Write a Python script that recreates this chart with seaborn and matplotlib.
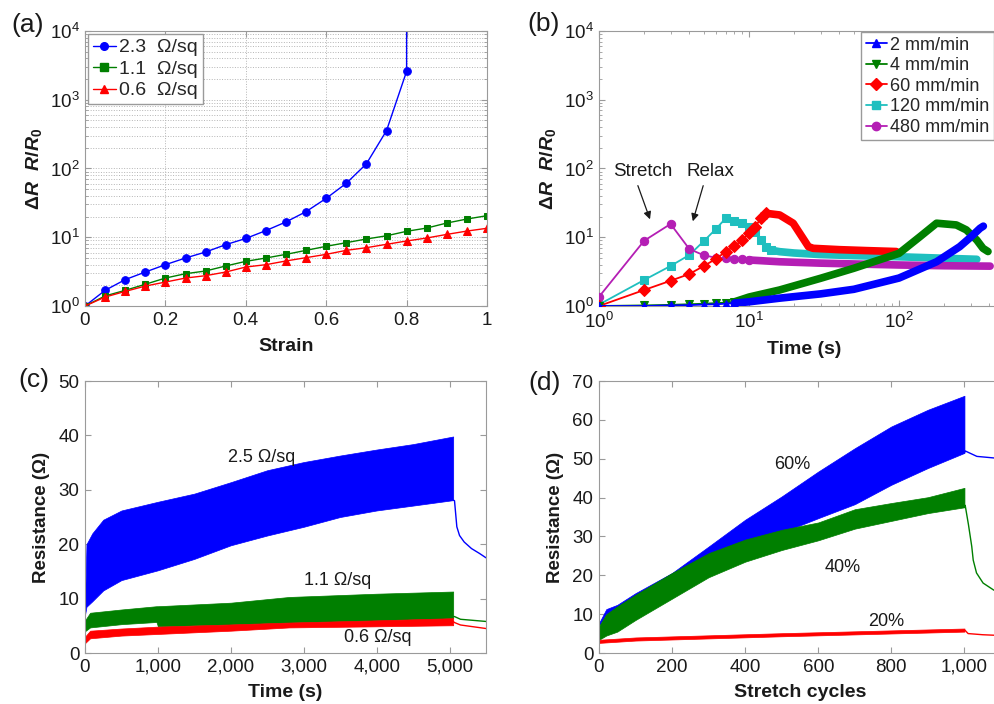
import matplotlib
matplotlib.use('Agg')
import matplotlib.pyplot as plt
from matplotlib.lines import Line2D
from matplotlib.ticker import FuncFormatter, MultipleLocator, NullLocator
import seaborn as sns

sns.set_theme(style='ticks')
plt.rcParams['font.family'] = ['Liberation Sans', 'DejaVu Sans']
plt.rcParams.update({
    'mathtext.fontset': 'custom',
    'mathtext.rm': 'Liberation Sans:bold',
    'mathtext.it': 'Liberation Sans:italic:bold',
    'mathtext.bf': 'Liberation Sans:bold',
})

BLUE, GREEN, RED = '#0000ff', '#007f00', '#ff0000'
CYAN, MAGENTA = '#1fbfbf', '#b41eb4'
SPINE, TXT = '#9a9a9a', '#1a1a1a'

# ---- (a) strain sweep, three sheet resistances
strain = [0.0, 0.05, 0.1, 0.15, 0.2, 0.25, 0.3, 0.35, 0.4, 0.45, 0.5,
          0.55, 0.6, 0.65, 0.7, 0.75, 0.8, 0.85, 0.9, 0.95, 1.0]
dr_23 = [1.0, 1.69, 2.42, 3.12, 3.99, 4.99, 6.1, 7.8, 9.6, 12.5, 16.7,
         23.6, 36.8, 60.9, 117, 355, 2590]
dr_23_break = [0.8, 2.0e4]          # film breaks at 80 % strain
dr_11 = [1.0, 1.40, 1.69, 2.07, 2.55, 2.95, 3.23, 3.82, 4.46, 4.99, 5.64,
         6.45, 7.38, 8.34, 9.43, 10.5, 12.2, 13.6, 16.1, 18.4, 20.6]
dr_06 = [1.0, 1.35, 1.63, 1.95, 2.23, 2.55, 2.76, 3.12, 3.69, 3.99, 4.52,
         5.05, 5.64, 6.45, 7.05, 7.89, 8.82, 9.75, 11.0, 12.3, 13.5]

# ---- (b) strain-rate runs: separate markers early, dense samples later
t2_mark = [1, 2, 3, 4, 5, 6, 7, 8]
v2_mark = [1.0, 1.0, 1.02, 1.03, 1.05, 1.06, 1.08, 1.1]
t2_tail = [8, 10, 16, 30, 50, 100, 178, 254, 300, 347, 365]
v2_tail = [1.1, 1.15, 1.3, 1.5, 1.75, 2.55, 4.4, 7.3, 10.0, 13.5, 14.5]

t4_mark = [1, 2, 3, 4, 5, 6, 7, 8]
v4_mark = [1.0, 1.02, 1.04, 1.06, 1.08, 1.1, 1.12, 1.15]
t4_tail = [8, 10, 16, 30, 50, 100, 138, 178, 241, 281, 330, 363, 392]
v4_tail = [1.15, 1.35, 1.71, 2.53, 3.54, 5.83, 10.2, 16.0, 15.1, 12.8, 9.1, 6.9, 6.2]

t60_mark = [1, 2, 3, 4, 5, 6, 7, 8, 9, 10, 11, 12, 13]
v60_mark = [1.0, 1.71, 2.33, 2.92, 3.82, 4.83, 6.17, 7.46, 9.1, 11.4, 14.2, 18.9, 22.3]
t60_tail = [13, 16, 19.7, 21.8, 24.9, 26.8, 40, 60, 96]
v60_tail = [22.3, 21.1, 16.0, 11.4, 7.3, 6.9, 6.6, 6.4, 6.2]

t120_mark = [1, 2, 3, 4, 5, 6, 7, 8, 9, 10, 11, 12, 13, 14]
v120_mark = [1.05, 2.39, 3.82, 5.52, 8.8, 13.1, 18.9, 17.2, 16.0, 14.2, 12.0, 9.1, 7.3, 6.5]
t120_tail = [14, 16, 20, 30, 50, 100, 200, 330]
v120_tail = [6.5, 6.17, 5.9, 5.6, 5.4, 5.2, 4.95, 4.78]

t480_mark = [1, 2, 3, 4, 5, 6, 7, 8, 9, 10]
v480_mark = [1.36, 8.9, 15.6, 6.75, 5.46, 5.05, 4.95, 4.85, 4.75, 4.67]
t480_tail = [10, 16, 30, 60, 100, 200, 405]
v480_tail = [4.67, 4.4, 4.2, 4.05, 3.95, 3.85, 3.8]

rate_labels = ['2 mm/min', '4 mm/min', '60 mm/min', '120 mm/min', '480 mm/min']

# ---- (c) cyclic test vs time: envelopes of the oscillating signal
c25_time = [0, 20, 100, 250, 500, 1000, 1500, 2000, 2500, 3000, 3500, 4000, 4500, 5050]
c25_high = [9.0, 20.0, 22.0, 24.5, 26.2, 27.8, 29.3, 31.4, 33.6, 35.1, 36.3, 37.4, 38.4, 39.8]
c25_low = [7.0, 8.5, 9.5, 11.5, 13.4, 15.2, 17.3, 19.8, 21.6, 23.2, 25.0, 26.2, 27.1, 28.1]
c25_relax_t = [5050, 5068, 5100, 5137, 5201, 5301, 5411, 5500]
c25_relax_v = [28.1, 28.0, 23.2, 21.6, 20.4, 19.2, 18.3, 17.5]

c11_time = [0, 70, 500, 980, 1000, 2000, 2800, 4000, 5050]
c11_high = [6.0, 7.4, 8.0, 8.6, 8.6, 9.25, 10.3, 10.9, 11.3]
c11_low = [4.0, 4.7, 5.3, 5.7, 4.9, 5.25, 5.6, 6.0, 6.4]
c11_relax_t = [5050, 5068, 5150, 5500]
c11_relax_v = [6.7, 6.7, 6.2, 5.8]

c06_time = [0, 70, 500, 1000, 2000, 2800, 4000, 5050]
c06_high = [3.0, 4.1, 4.5, 4.85, 5.25, 5.6, 6.0, 6.4]
c06_low = [1.8, 2.7, 3.2, 3.5, 4.1, 4.7, 4.9, 5.1]
c06_relax_t = [5050, 5068, 5150, 5500]
c06_relax_v = [5.8, 5.6, 5.15, 4.5]

# ---- (d) 1000 stretch cycles at three strains
d_cycles = [0, 20, 50, 100, 200, 300, 400, 500, 600, 700, 800, 900, 1000]
d60_high = [7.7, 11.3, 12.4, 15.4, 20.6, 27.4, 34.3, 40.3, 46.7, 52.7, 58.3, 62.6, 66.2]
d60_low = [7.0, 10.0, 11.5, 14.5, 19.9, 25.3, 28.7, 31.0, 34.7, 38.3, 43.3, 47.6, 51.5]
d60_relax_n = [1000, 1002, 1034, 1080, 1100]
d60_relax_v = [51.5, 52.0, 50.6, 50.2, 50.0]

d40_high = [6.9, 10.0, 12.0, 15.0, 20.6, 25.7, 29.2, 31.7, 33.6, 37.0, 38.6, 40.1, 42.5]
d40_low = [3.4, 4.5, 5.5, 8.5, 14.0, 19.5, 23.5, 26.5, 29.0, 32.0, 34.0, 36.0, 37.5]
d40_relax_n = [1000, 1002, 1011, 1020, 1024, 1033, 1051, 1080, 1100]
d40_relax_v = [37.5, 38.0, 33.0, 27.4, 23.9, 20.6, 18.0, 16.2, 15.4]

d20_cycles = [0, 100, 500, 1000]
d20_high = [3.4, 4.0, 5.1, 6.3]
d20_low = [2.6, 3.2, 4.3, 5.5]
d20_relax_n = [1000, 1002, 1010, 1050, 1100]
d20_relax_v = [5.9, 5.8, 5.0, 4.7, 4.5]

W, H = 994, 704
fig = plt.figure(figsize=(W / 100, H / 100), dpi=100)


def px_axes(left, top, right, bottom):
    return fig.add_axes([left / W, 1 - bottom / H, (right - left) / W, (bottom - top) / H])


def style(ax):
    for s in ax.spines.values():
        s.set_color(SPINE)
        s.set_linewidth(0.8)
    ax.tick_params(which='both', direction='in', top=True, right=True,
                   color=SPINE, labelcolor=TXT, labelsize=13.5, pad=4)
    ax.tick_params(which='major', length=4, width=0.8)
    ax.tick_params(which='minor', length=2, width=0.6)


def line(ax, x, y, color, **kw):
    sns.lineplot(x=x, y=y, ax=ax, color=color, sort=False, estimator=None, **kw)


ylab_dr = r'$\Delta \mathit{R}\ \ \mathit{R}/\mathit{R}_0$'
legend_kw = dict(frameon=True, fancybox=False, edgecolor=SPINE, framealpha=1,
                 borderpad=0.25, labelspacing=0.2, handlelength=1.2,
                 handletextpad=0.15)

# ===================== (a)
ax = px_axes(85, 31, 487, 306)
ax.set_yscale('log')
line(ax, strain[:17] + dr_23_break[:1], dr_23 + dr_23_break[1:], BLUE, lw=1,
     marker='o', ms=5.5, mec=BLUE, markevery=list(range(17)))
line(ax, strain, dr_11, GREEN, lw=1, marker='s', ms=5, mec=GREEN)
line(ax, strain, dr_06, RED, lw=1, marker='^', ms=5.5, mec=RED)
ax.set_xlim(0, 1)
ax.set_ylim(1, 1e4)
ax.xaxis.set_major_locator(MultipleLocator(0.2))
ax.xaxis.set_major_formatter(FuncFormatter(lambda v, p: f'{v:g}'))
ax.xaxis.set_minor_locator(NullLocator())
ax.grid(which='both', ls=':', color='#b5b5b5', lw=0.7)
style(ax)
ax.set_xlabel('Strain', fontsize=14, fontweight='bold', color=TXT, labelpad=7)
ax.set_ylabel(ylab_dr, fontsize=14, color=TXT, labelpad=4)
hs = [Line2D([], [], color=c, marker=m, ms=5.5, mec=c, lw=1)
      for c, m in [(BLUE, 'o'), (GREEN, 's'), (RED, '^')]]
ax.legend(hs, ['2.3  Ω/sq', '1.1  Ω/sq', '0.6  Ω/sq'], loc='upper left', fontsize=14,
          borderaxespad=0.15, **legend_kw)
fig.text(28 / W, 1 - 25 / H, '(a)', fontsize=19, ha='center', va='center', color=TXT)

# ===================== (b)
ax = px_axes(599, 31, 1010, 306)
ax.set_xscale('log')
ax.set_yscale('log')
runs = [(t2_mark, v2_mark, t2_tail, v2_tail, BLUE, '^', 6),
        (t4_mark, v4_mark, t4_tail, v4_tail, GREEN, 'v', 5),
        (t60_mark, v60_mark, t60_tail, v60_tail, RED, 'D', 4),
        (t120_mark, v120_mark, t120_tail, v120_tail, CYAN, 's', 3),
        (t480_mark, v480_mark, t480_tail, v480_tail, MAGENTA, 'o', 3.5)]
for tm, vm, tt, vt, c, m, z in runs:
    line(ax, tm, vm, c, lw=1.3, marker=m, ms=6, mec=c, zorder=z)
    line(ax, tt, vt, c, lw=5.5, solid_capstyle='round', solid_joinstyle='round', zorder=z)
ax.set_xlim(1, 549.5)
ax.set_ylim(1, 1e4)
style(ax)
ax.set_xlabel('Time (s)', fontsize=14, fontweight='bold', color=TXT, labelpad=7)
ax.set_ylabel(ylab_dr, fontsize=14, color=TXT, labelpad=4)
hs = [Line2D([], [], color=r[4], marker=r[5], ms=6, mec=r[4], lw=1.3) for r in runs]
ax.legend(hs, rate_labels, loc='upper left', fontsize=13,
          bbox_to_anchor=(861 / W, 1 - 32 / H), bbox_transform=fig.transFigure,
          borderaxespad=0, **legend_kw)
ax.text(1.96, 89, 'Stretch', fontsize=13.5, ha='center', va='center', color=TXT)
ax.text(5.5, 89, 'Relax', fontsize=13.5, ha='center', va='center', color=TXT)
arrow = dict(arrowstyle='-|>', color='k', lw=0.9, mutation_scale=11)
ax.annotate('', xy=(2.22, 16.7), xytext=(1.79, 61.5), arrowprops=arrow)
ax.annotate('', xy=(4.17, 15.6), xytext=(5.01, 61.5), arrowprops=arrow)
fig.text(544 / W, 1 - 24 / H, '(b)', fontsize=19, ha='center', va='center', color=TXT)

comma = FuncFormatter(lambda v, p: f'{v:,.0f}')

# ===================== (c)
ax = px_axes(85, 381, 486, 653)
ax.fill_between(c25_time, c25_low, c25_high, color=BLUE, lw=0.5)
line(ax, c25_relax_t, c25_relax_v, BLUE, lw=1)
ax.fill_between(c11_time, c11_low, c11_high, color=GREEN, lw=0.5)
line(ax, c11_relax_t, c11_relax_v, GREEN, lw=1)
ax.fill_between(c06_time, c06_low, c06_high, color=RED, lw=0.5)
line(ax, c06_relax_t, c06_relax_v, RED, lw=1)
ax.set_xlim(0, 5500)
ax.set_ylim(0, 50)
ax.xaxis.set_major_locator(MultipleLocator(1000))
ax.xaxis.set_major_formatter(comma)
ax.yaxis.set_major_locator(MultipleLocator(10))
style(ax)
ax.set_xlabel('Time (s)', fontsize=14, fontweight='bold', color=TXT, labelpad=6)
ax.set_ylabel('Resistance (Ω)', fontsize=13.5, fontweight='bold', color=TXT, labelpad=6)
ax.text(2425, 36.0, '2.5 Ω/sq', fontsize=13, ha='center', va='center', color=TXT)
ax.text(3466, 13.4, '1.1 Ω/sq', fontsize=13, ha='center', va='center', color=TXT)
ax.text(4014, 2.9, '0.6 Ω/sq', fontsize=13, ha='center', va='center', color=TXT)
fig.text(34 / W, 1 - 380 / H, '(c)', fontsize=19, ha='center', va='center', color=TXT)

# ===================== (d)
ax = px_axes(599, 381, 1001, 653)
ax.fill_between(d_cycles, d60_low, d60_high, color=BLUE, lw=0.5)
line(ax, d60_relax_n, d60_relax_v, BLUE, lw=1)
ax.fill_between(d_cycles, d40_low, d40_high, color=GREEN, lw=0.5)
line(ax, d40_relax_n, d40_relax_v, GREEN, lw=1)
ax.fill_between(d20_cycles, d20_low, d20_high, color=RED, lw=0.5)
line(ax, d20_relax_n, d20_relax_v, RED, lw=1)
ax.set_xlim(0, 1100)
ax.set_ylim(0, 70)
ax.xaxis.set_major_locator(MultipleLocator(200))
ax.xaxis.set_major_formatter(comma)
ax.yaxis.set_major_locator(MultipleLocator(10))
style(ax)
ax.set_xlabel('Stretch cycles', fontsize=14, fontweight='bold', color=TXT, labelpad=6)
ax.set_ylabel('Resistance (Ω)', fontsize=13.5, fontweight='bold', color=TXT, labelpad=6)
ax.text(529, 48.4, '60%', fontsize=13, ha='center', va='center', color=TXT)
ax.text(668, 21.9, '40%', fontsize=13, ha='center', va='center', color=TXT)
ax.text(786, 8.0, '20%', fontsize=13, ha='center', va='center', color=TXT)
fig.text(545 / W, 1 - 383 / H, '(d)', fontsize=19, ha='center', va='center', color=TXT)

fig.savefig('out.png', dpi=100, facecolor='white')
